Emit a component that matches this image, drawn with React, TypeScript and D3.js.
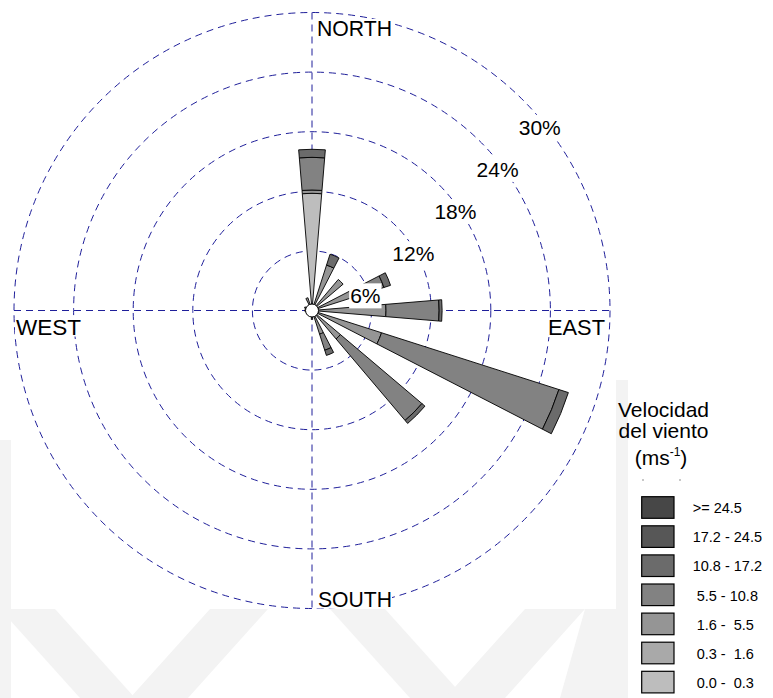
import React from "react";
import * as d3 from "d3";

const directions = ["N", "NNE", "NE", "ENE", "E", "ESE", "SE", "SSE", "S", "SSW", "SW", "WSW", "W", "WNW", "NW", "NNW"];
const speedClasses = ["0.0 -  0.3", "0.3 -  1.6", "1.6 -  5.5", "5.5 - 10.8", "10.8 - 17.2", "17.2 - 24.5", ">= 24.5"];
const classColors = ["#bdbdbd", "#a9a9a9", "#959595", "#828282", "#6b6b6b", "#575757", "#474747"];
// frequencies (%) per speed class, per direction (N..NNW)
const c00_03 = [11.8, 0, 0, 0, 0, 0, 0, 0, 0, 0, 0, 0, 0, 0, 0, 0];
const c03_16 = [0, 0, 0, 0, 0, 0, 0, 0, 0, 0, 0, 0, 0, 0, 0, 0];
const c16_55 = [0.33, 4.8, 4.1, 5.5, 7.45, 7.35, 3.75, 2.5, 0.9, 0, 0, 0, 0.75, 0.8, 0, 1.35];
const c55_108 = [3.29, 0, 0, 2.1, 5.35, 18.75, 10.75, 1.7, 0, 0, 0, 0, 0, 0, 0, 0];
const c108_172 = [0.81, 1.15, 0, 0.7, 0.3, 1.0, 0.4, 0.55, 0, 0, 0, 0, 0, 0, 0, 0];
const c172_245 = [0, 0, 0, 0, 0, 0, 0, 0, 0, 0, 0, 0, 0, 0, 0, 0];
const c245 = [0, 0, 0, 0, 0, 0, 0, 0, 0, 0, 0, 0, 0, 0, 0, 0];
const classSeries = [c00_03, c03_16, c16_55, c55_108, c108_172, c172_245, c245];
const ringTicks = [6, 12, 18, 24, 30];
const compass = ["NORTH", "EAST", "SOUTH", "WEST"];

const CX = 312;
const CY = 310.5;
const RMAX = 298;
const FONT = "'Liberation Sans', Arial, Helvetica, sans-serif";
const GRID = "#1f1f9a";

export default function App() {
  const r = d3.scaleLinear().domain([0, 30]).range([0, RMAX]);
  const ang = d3.scaleLinear().domain([0, directions.length]).range([0, 2 * Math.PI]);
  const halfW = (4.75 * Math.PI) / 180;
  const arc = d3.arc();

  const wedges: { d: string; fill: string; key: string }[] = [];
  directions.forEach((dir, i) => {
    let cum = 0;
    classSeries.forEach((series, k) => {
      const v = series[i];
      if (v > 0) {
        const a = ang(i);
        const d = arc({
          innerRadius: r(cum),
          outerRadius: r(cum + v),
          startAngle: a - halfW,
          endAngle: a + halfW,
        } as any) as string;
        wedges.push({ d, fill: classColors[k], key: dir + k });
        cum += v;
      }
    });
  });

  const lab = (txt: string) => {
    const k = 0.7071;
    const rv = r(parseFloat(txt));
    return { x: CX + rv * k - 4, y: CY - rv * k + 35 };
  };

  const compassPos: Record<string, { x: number; y: number; w: number }> = {
    NORTH: { x: 317, y: 36, w: 76 },
    EAST: { x: 548, y: 335, w: 58 },
    SOUTH: { x: 318, y: 606.5, w: 75 },
    WEST: { x: 16, y: 334.5, w: 66 },
  };

  const legendTop = 496.7;
  const legendStep = 29.1;
  const legendOrder = [...speedClasses.keys()].reverse();

  return (
    <svg width={773} height={698} style={{ position: "absolute", left: 0, top: 0, background: "#fff" }} fontFamily={FONT}>
      {/* faint watermark */}
      <g fill="#f3f3f3">
        <polygon points="0,440 11,440 11,698 0,698" />
        <polygon points="0,609 55,609 135,698 80,698" />
        <polygon points="210,609 268,609 188,698 130,698" />
        <polygon points="330,609 385,609 465,698 410,698" />
        <polygon points="525,609 585,609 505,698 445,698" />
        <polygon points="585,609 616,609 616,698 560,698" />
        <polygon points="616,380 628,380 628,698 616,698" />
      </g>
      <rect x={11} y={0} width={605} height={609} fill="#fff" />

      {/* grid */}
      <g fill="none" stroke={GRID} strokeWidth={1} strokeDasharray="7,5">
        {ringTicks.map((t) => (
          <circle key={t} cx={CX} cy={CY} r={r(t)} />
        ))}
        <line x1={CX - RMAX} y1={CY} x2={CX + RMAX} y2={CY} />
        <line x1={CX} y1={CY - RMAX} x2={CX} y2={CY + RMAX} />
      </g>

      {/* bars */}
      <g transform={`translate(${CX},${CY})`} stroke="#000" strokeWidth={0.9} strokeLinejoin="round">
        {wedges.map((w) => (
          <path key={w.key} d={w.d} fill={w.fill} />
        ))}
        <circle r={6.5} fill="#fff" stroke="#000" strokeWidth={1} />
      </g>

      {/* ring labels */}
      {ringTicks.map((t) => {
        const txt = `${t}%`;
        const p = lab(txt);
        const w = txt.length === 2 ? 32.4 : 43.5;
        return (
          <g key={txt}>
            <rect x={p.x - 1} y={p.y - 20} width={w} height={25} fill="#fff" />
            <text x={p.x} y={p.y} fontSize={21} fill="#000">
              {txt}
            </text>
          </g>
        );
      })}

      {/* compass labels */}
      {compass.map((c) => {
        const p = compassPos[c];
        return (
          <g key={c}>
            <rect x={p.x - 1} y={p.y - 17} width={p.w} height={19} fill="#fff" />
            <text x={p.x} y={p.y} fontSize={21.5} fill="#000" textLength={p.w - 1} lengthAdjust="spacingAndGlyphs">
              {c}
            </text>
          </g>
        );
      })}

      {/* legend */}
      <g fill="#000">
        <text x={663.5} y={416.7} fontSize={21} textAnchor="middle">Velocidad</text>
        <text x={663.5} y={438.3} fontSize={21} textAnchor="middle">del viento</text>
        <text x={661} y={465} fontSize={21} textAnchor="middle">
          (ms<tspan fontSize={12} dy={-9}>-1</tspan><tspan dy={9}>)</tspan>
        </text>
        <circle cx={643} cy={480} r={0.7} fill="#666" />
        <circle cx={680} cy={480} r={0.7} fill="#666" />
      </g>
      {legendOrder.map((k, j) => {
        const y = legendTop + j * legendStep;
        const lbl = speedClasses[k];
        const x = k >= 4 ? 692.7 : 696.7;
        return (
          <g key={lbl}>
            <rect x={641.7} y={y} width={32.3} height={21.6} fill={classColors[k]} stroke="#000" strokeWidth={1.2} />
            <text x={x} y={y + 16.5} fontSize={14.5} fill="#000" style={{ whiteSpace: "pre" }}>
              {lbl}
            </text>
          </g>
        );
      })}
    </svg>
  );
}
